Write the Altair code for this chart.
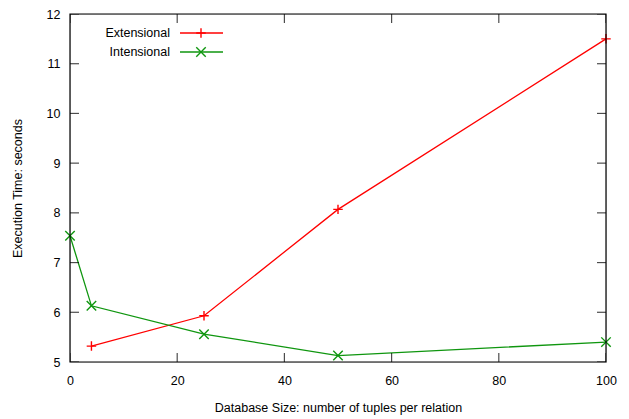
import altair as alt
import pandas as pd

sizes_ext = [4, 25, 50, 100]
times_ext = [5.32, 5.93, 8.07, 11.5]
sizes_int = [0, 4, 25, 50, 100]
times_int = [7.54, 6.13, 5.56, 5.13, 5.40]
series = ["Extensional", "Intensional"]
colors = ["#ff0000", "#0f960f"]
x_ticks = [0, 20, 40, 60, 80, 100]
y_ticks = [5, 6, 7, 8, 9, 10, 11, 12]

PLUS = "M-1,0L1,0M0,-1L0,1"
CROSS = "M-1,-1L1,1M-1,1L1,-1"

df = pd.DataFrame(
    [{"size": s, "time": t, "series": series[0]} for s, t in zip(sizes_ext, times_ext)]
    + [{"size": s, "time": t, "series": series[1]} for s, t in zip(sizes_int, times_int)]
)

FONT = "Liberation Sans"
xscale = alt.Scale(domain=[0, 100], nice=False)
yscale = alt.Scale(domain=[5, 12], nice=False)
color = alt.Color("series:N", scale=alt.Scale(domain=series, range=colors), legend=None)
shape = alt.Shape("series:N", scale=alt.Scale(domain=series, range=[PLUS, CROSS]), legend=None)

xaxis = alt.Axis(values=x_ticks, grid=False, domain=False, ticks=False, labelPadding=12,
                 labelFlush=False, labelOverlap=False,
                 title="Database Size: number of tuples per relation", titlePadding=15,
                 labelFont=FONT, titleFont=FONT, labelFontSize=12.5, titleFontSize=12.5,
                 titleFontWeight="normal", labelColor="black", titleColor="black")
yaxis = alt.Axis(values=y_ticks, grid=False, domain=False, ticks=False, labelPadding=10,
                 labelFlush=False, labelOverlap=False,
                 title="Execution Time: seconds", titlePadding=22,
                 labelFont=FONT, titleFont=FONT, labelFontSize=12.5, titleFontSize=12.5,
                 titleFontWeight="normal", labelColor="black", titleColor="black")

base = alt.Chart(df)
lines = base.mark_line(strokeWidth=1.3).encode(
    x=alt.X("size:Q", scale=xscale, axis=xaxis),
    y=alt.Y("time:Q", scale=yscale, axis=yaxis),
    color=color,
    detail="series:N",
)
points = base.mark_point(filled=False, size=90, strokeWidth=1.4, opacity=1).encode(
    x=alt.X("size:Q", scale=xscale),
    y=alt.Y("time:Q", scale=yscale),
    color=color,
    shape=shape,
)

# inward ticks (gnuplot style, mirrored)
xt = pd.DataFrame({"x": x_ticks})
yt = pd.DataFrame({"y": y_ticks})
tick_kw = dict(color="black", size=18, thickness=1.2, clip=True)
xtick_b = alt.Chart(xt).mark_tick(orient="vertical", **tick_kw).encode(
    x=alt.X("x:Q", scale=xscale), y=alt.datum(5, scale=yscale))
xtick_t = alt.Chart(xt).mark_tick(orient="vertical", **tick_kw).encode(
    x=alt.X("x:Q", scale=xscale), y=alt.datum(12, scale=yscale))
ytick_l = alt.Chart(yt).mark_tick(orient="horizontal", **tick_kw).encode(
    y=alt.Y("y:Q", scale=yscale), x=alt.datum(0, scale=xscale))
ytick_r = alt.Chart(yt).mark_tick(orient="horizontal", **tick_kw).encode(
    y=alt.Y("y:Q", scale=yscale), x=alt.datum(100, scale=xscale))

frame = alt.Chart(pd.DataFrame({"a": [0]})).mark_rect(
    fill=None, stroke="black", strokeWidth=1.2).encode(
    x=alt.datum(0, scale=xscale), x2=alt.datum(100),
    y=alt.datum(5, scale=yscale), y2=alt.datum(12))

# custom legend (gnuplot style: label then sample)
legend_layers = []
for i, name in enumerate(series):
    ld = pd.DataFrame({"series": [name]})
    yv = alt.value(19 + 19 * i)
    legend_layers.append(alt.Chart(ld).mark_rule(strokeWidth=1.3).encode(
        x=alt.value(110), x2=alt.value(153), y=yv, color=color))
    legend_layers.append(alt.Chart(ld).mark_point(
        filled=False, size=90, strokeWidth=1.4, opacity=1).encode(
        x=alt.value(131), y=yv, color=color, shape=shape))
    legend_layers.append(alt.Chart(ld).mark_text(
        align="right", baseline="middle", font=FONT, fontSize=12.5, color="black").encode(
        x=alt.value(100), y=yv, text="series:N"))

chart = alt.layer(
    lines, points, xtick_b, xtick_t, ytick_l, ytick_r, frame, *legend_layers
).properties(
    width=536, height=348,
    autosize=alt.AutoSizeParams(type="none"),
    padding={"left": 62, "top": 6, "right": 15, "bottom": 57},
).configure_view(stroke=None).configure(background="white")

chart.save("out.html", embed_options={"renderer": "svg", "actions": False})
